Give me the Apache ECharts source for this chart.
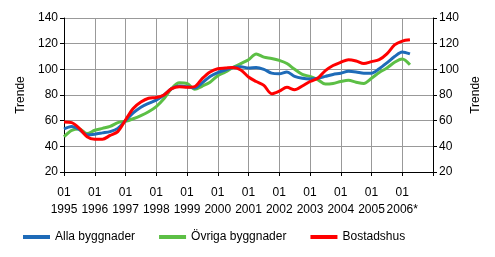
<!DOCTYPE html>
<html>
<head>
<meta charset="utf-8">
<script src="https://cdn.jsdelivr.net/npm/echarts@6/dist/echarts.min.js"></script>
<style>
  html, body { margin: 0; padding: 0; background: #fff; }
  #chart { width: 495px; height: 257px; }
</style>
</head>
<body>
<div id="chart"></div>
<script>
// quarters 1995 Q1 .. 2007 Q1 (last one only closes the axis)
var years = ['1995', '1996', '1997', '1998', '1999', '2000', '2001', '2002', '2003', '2004', '2005', '2006*', ''];
var quarters = [];
years.forEach(function (y, i) {
    for (var q = 1; q <= 4; q++) {
        if (i === years.length - 1 && q > 1) break;
        quarters.push(i + '-' + q);
    }
});

var allaByggnader = [
    53.5, 55.5, 53, 49,
    49.5, 50.5, 51.5, 54,
    60, 66, 70.5, 73.5,
    76, 80, 85, 87,
    86.5, 85.5, 89.5, 94.5,
    97.5, 99.5, 101.5, 102,
    101, 101.5, 100, 97,
    96.5, 98, 94.5, 93,
    92.5, 93, 94.5, 96,
    97, 98.5, 98, 97,
    97, 100.5, 105, 110,
    113.5, 112
];
var ovrigaByggnader = [
    47.5, 52.5, 53.5, 50,
    52.5, 54, 55.5, 58.5,
    59.5, 61.5, 64, 67,
    71, 77, 85, 89.5,
    89, 84.5, 87, 90,
    95, 98, 101.5, 104.5,
    107.5, 112, 109.5, 108.5,
    107, 104.5, 100, 96,
    94.5, 92, 88.5, 89,
    90.5, 91.5, 90, 89,
    93, 97.5, 101, 105.5,
    108, 103.5
];
var bostadshus = [
    59, 58.5, 54, 47.5,
    45.5, 45.5, 48.5, 51.5,
    60.5, 69.5, 74.5, 77.5,
    78, 80, 85, 86.5,
    86, 86.5, 93, 98,
    100.5, 101, 101.5, 99.5,
    94, 90.5, 87.5, 81,
    83, 86, 84, 87,
    90.5, 93, 99, 103,
    105.5, 107.5, 106.5, 104.5,
    106, 107.5, 112, 119,
    122, 123
];

var font = 'Liberation Sans, Arial, sans-serif';

var yAxisBase = {
    type: 'value',
    min: 20,
    max: 140,
    interval: 20,
    name: 'Trende',
    nameLocation: 'middle',
    nameRotate: 90,
    nameGap: 34,
    nameTextStyle: { color: '#000', fontSize: 12, fontFamily: font },
    axisLine: { show: true, lineStyle: { color: '#000', width: 1 } },
    axisTick: { show: true, length: 4, lineStyle: { color: '#000' } },
    axisLabel: { color: '#000', fontSize: 12, fontFamily: font, margin: 6 },
    splitLine: { show: false }
};

var myChart = echarts.init(document.getElementById('chart'), null, { renderer: 'canvas' });
var option = {
    animation: false,
    backgroundColor: '#fff',
    grid: { left: 64, right: 62, top: 18, bottom: 85 },
    legend: {
        left: 18,
        top: 226,
        icon: 'rect',
        itemWidth: 27,
        itemHeight: 4,
        itemGap: 24,
        textStyle: { color: '#000', fontSize: 12, fontFamily: font },
        data: ['Alla byggnader', 'Övriga byggnader', 'Bostadshus']
    },
    xAxis: {
        type: 'category',
        data: quarters,
        boundaryGap: false,
        axisLine: { lineStyle: { color: '#000', width: 1 } },
        axisTick: { interval: 3, length: 4, lineStyle: { color: '#000' } },
        axisLabel: {
            interval: 3,
            color: '#000',
            fontSize: 12,
            fontFamily: font,
            lineHeight: 17,
            margin: 12,
            formatter: function (v) {
                var y = years[+v.split('-')[0]];
                return y ? '01\n' + y : '';
            }
        },
        splitLine: { show: true, interval: 3, lineStyle: { color: '#999', width: 1 } }
    },
    yAxis: [
        Object.assign({}, yAxisBase, {
            position: 'left',
            nameGap: 37,
            splitLine: { show: true, lineStyle: { color: '#999', width: 1 } }
        }),
        Object.assign({}, yAxisBase, { position: 'right' })
    ],
    series: [
        {
            name: 'Alla byggnader', type: 'line', data: allaByggnader,
            symbol: 'none', smooth: 0.3, z: 3,
            lineStyle: { width: 3, color: '#1E6BB8' }, itemStyle: { color: '#1E6BB8' }
        },
        {
            name: 'Övriga byggnader', type: 'line', data: ovrigaByggnader,
            symbol: 'none', smooth: 0.3, z: 2,
            lineStyle: { width: 3, color: '#5CBF45' }, itemStyle: { color: '#5CBF45' }
        },
        {
            name: 'Bostadshus', type: 'line', data: bostadshus,
            symbol: 'none', smooth: 0.3, z: 4,
            lineStyle: { width: 3, color: '#FF0000' }, itemStyle: { color: '#FF0000' }
        }
    ]
};
myChart.setOption(option);
</script>
</body>
</html>
